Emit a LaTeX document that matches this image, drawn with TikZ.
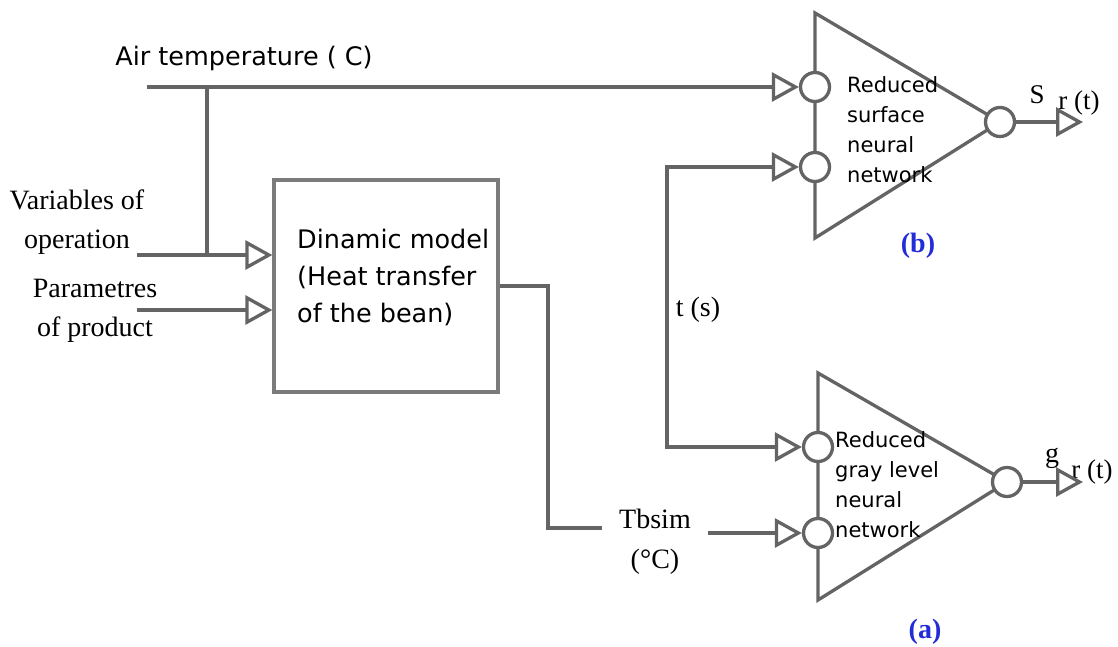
\documentclass[tikz,border=0pt]{standalone}
\usepackage{fontspec}
\setmainfont{Liberation Serif}
\newfontfamily\sansf{DejaVu Sans}
\usetikzlibrary{arrows.meta}
\definecolor{lc}{RGB}{100,100,100}
\definecolor{lblue}{RGB}{35,45,215}
\tikzset{
  tip/.tip={Triangle[open,length=27pt,width=29pt,line width=3.3pt]},
  wire/.style={draw=lc,line width=3.3pt},
  arr/.style={wire,-tip},
  arrboth/.style={wire,tip-tip},
  neuron/.style={circle,draw=lc,fill=white,line width=3.3pt,minimum size=29pt,inner sep=0pt},
  tri/.style={draw=lc,line width=3.3pt,line join=miter},
  serif/.style={font=\fontsize{28}{39}\selectfont,align=center,inner sep=0pt},
  sanslbl/.style={font=\sansf\fontsize{25.5}{30}\selectfont,inner sep=0pt},
  nettext/.style={font=\sansf\fontsize{21}{30}\selectfont,align=left,inner sep=0pt,anchor=west},
  tag/.style={font=\bfseries\fontsize{28}{30}\selectfont,text=lblue,inner sep=0pt}
}
\begin{document}
\begin{tikzpicture}[x=1pt,y=-1pt]
\useasboundingbox[fill=white] (0,0) rectangle (1118,646);

% triangles
\draw[tri] (815,13) -- (1000,122) -- (815,238) -- cycle;
\draw[tri] (818,373) -- (1007,482) -- (818,600) -- cycle;

% neurons
\node[neuron] (b1) at (815,87) {};
\node[neuron] (b2) at (815,167) {};
\node[neuron] (bo) at (1000,122) {};
\node[neuron] (a1) at (818,447) {};
\node[neuron] (a2) at (818,533) {};
\node[neuron] (ao) at (1007,482) {};

% network texts
\node[nettext] (bt) at (847,129.5) {Reduced\\surface\\neural\\network};
\node[nettext] (at) at (835,485) {Reduced\\gray level\\neural\\network};

% box
\node[draw=lc!85,line width=3.3pt,minimum width=224pt,minimum height=212pt,inner sep=0pt] (box) at (386,286) {};
\node[font=\sansf\fontsize{25.5}{37}\selectfont,align=left,anchor=west,inner sep=0pt] (boxt) at (297,277) {Dinamic model\\(Heat transfer\\of the bean)};

% labels
\node[sanslbl] (airl) at (244,58) {Air temperature ( C)};
\node[serif] (varl) at (77,222) {Variables of\\operation};
\node[serif] (parl) at (95,311) {Parametres\\of product};
\node[serif,font=\fontsize{28}{40}\selectfont] (tbl) at (655,542) {Tbsim\\(°C)};
\node[serif] (tsl) at (698,310) {t (s)};
\node[font=\fontsize{27}{30}\selectfont,inner sep=0pt] (sl) at (1037,95) {S};
\node[font=\fontsize{27}{30}\selectfont,inner sep=0pt] (srl) at (1079,103) {r (t)};
\node[font=\fontsize{28}{30}\selectfont,inner sep=0pt] (gl) at (1052,458) {g};
\node[font=\fontsize{27}{30}\selectfont,inner sep=0pt] (grl) at (1092,472) {r (t)};
\node[tag] (tagb) at (918,246) {(b)};
\node[tag] (taga) at (925,632) {(a)};

% coordinates
\coordinate (airs) at (147,87);
\coordinate (j1) at (207,87);
\coordinate (j2) at (207,255);
\coordinate (vs) at (137,255);
\coordinate (ps) at (137,310);
\coordinate (o1) at (548,286);
\coordinate (o2) at (548,528);
\coordinate (o3) at (602,528);
\coordinate (ts) at (708,533);
\coordinate (c1) at (667,167);
\coordinate (c2) at (667,447);
\coordinate (se) at (1083,122);
\coordinate (ge) at (1083,482);

% connectors
\draw[arr] (airs) -- (b1);
\draw[wire] (j1) -- (j2);
\draw[arr] (vs) -- (vs -| box.west);
\draw[arr] (ps) -- (ps -| box.west);
\draw[wire] (box.east |- o1) -- (o1) -- (o2) -- (o3);
\draw[arr] (ts) -- (a2);
\draw[arrboth] (b2) -- (c1) -- (c2) -- (a1);
\draw[arr] (bo) -- (se);
\draw[arr] (ao) -- (ge);
\end{tikzpicture}
\end{document}
